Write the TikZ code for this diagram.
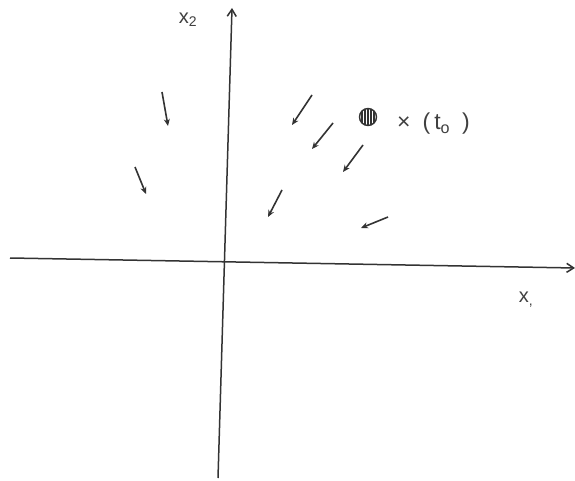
\documentclass[tikz,border=0pt]{standalone}
\usepackage{fontspec}
\setmainfont{Liberation Sans}
\usetikzlibrary{arrows.meta}
\begin{document}
\begin{tikzpicture}[x=1pt,y=-1pt,
  axis/.style={line width=1.5pt,draw=black!80,-{Straight Barb[length=7pt,width=9pt]}},
  flow/.style={line width=1.6pt,draw=black!80,-{Stealth[length=7pt,width=6pt]}},
  lbl/.style={font=\fontsize{20}{20}\selectfont,text=black!75,inner sep=0pt}]
\useasboundingbox (0,0) rectangle (575,481);
\fill[white] (0,0) rectangle (575,481);
% axes
\coordinate (hs) at (10,258);
\coordinate (he) at (575,268);
\coordinate (vs) at (218,478);
\coordinate (ve) at (232,8);
\draw[axis] (hs) -- (he);
\draw[axis] (vs) -- (ve);
\node[lbl] (x2) at (188,20) {x\textsubscript{2}};
\node[lbl] (x1) at (526,300) {x\textsubscript{,}};
% point
\node[circle,draw=black!80,line width=1.4pt,minimum size=17pt,inner sep=0pt,
  path picture={\foreach \k in {-6,-3,0,3,6}{\draw[line width=1.3pt,black!80] ([xshift=\k pt]path picture bounding box.north) -- ([xshift=\k pt]path picture bounding box.south);}}]
  (pt) at (368,117) {};
\node[lbl,anchor=west,font=\fontsize{23}{23}\selectfont] (lab) at (397,124) {×\hspace{12pt}(\hspace{4pt}t\textsubscript{o}\hspace{12pt})};
% flow arrows
\coordinate (a1) at (162,92);  \coordinate (b1) at (168,126);
\coordinate (a2) at (135,167); \coordinate (b2) at (146,194);
\coordinate (a3) at (312,95);  \coordinate (b3) at (292,125);
\coordinate (a4) at (333,123); \coordinate (b4) at (312,149);
\coordinate (a5) at (363,145); \coordinate (b5) at (343,172);
\coordinate (a6) at (282,190); \coordinate (b6) at (268,217);
\coordinate (a7) at (388,217); \coordinate (b7) at (361,228);
\foreach \i in {1,...,7}{\draw[flow] (a\i) -- (b\i);}
\end{tikzpicture}
\end{document}
